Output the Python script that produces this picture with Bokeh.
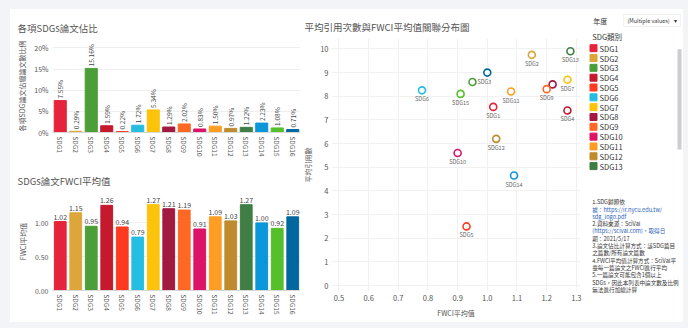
import numpy as np
from bokeh.plotting import figure
from bokeh.models import (ColumnDataSource, FactorRange, Range1d, FixedTicker,
                          PrintfTickFormatter, NumeralTickFormatter, Label,
                          BoxAnnotation, CDSView, IndexFilter, Spacer)
from bokeh.layouts import row, column
from bokeh.core.properties import value
from bokeh.embed import file_html
from bokeh.resources import INLINE

# ---------------- data ----------------
sdgs = ["SDG1", "SDG2", "SDG3", "SDG4", "SDG5", "SDG6", "SDG7", "SDG8",
        "SDG9", "SDG10", "SDG11", "SDG12", "SDG13", "SDG14", "SDG15", "SDG16"]
sdg_colors = ["#E5243B", "#DDA63A", "#4C9F38", "#C5192D", "#FF3A21", "#26BDE2",
              "#FCC30B", "#A21942", "#FD6925", "#DD1367", "#FD9D24", "#BF8B2E",
              "#3F7E44", "#0A97D9", "#56C02B", "#00689D"]
share_pct = [7.55, 0.29, 15.16, 1.59, 0.22, 1.72, 5.34, 1.29,
             2.02, 0.83, 1.50, 0.97, 1.22, 2.23, 1.08, 0.71]
fwci_mean = [1.02, 1.15, 0.95, 1.26, 0.94, 0.79, 1.27, 1.21,
             1.19, 0.91, 1.09, 1.03, 1.27, 1.00, 0.92, 1.09]
scatter_fwci = [1.02, 1.15, 0.95, 1.27, 0.93, 0.78, 1.27, 1.22,
                1.20, 0.90, 1.08, 1.03, 1.28, 1.09, 0.91, 1.00]
scatter_cites = [7.55, 9.75, 8.60, 7.40, 2.50, 8.25, 8.70, 8.50,
                 8.30, 5.60, 8.20, 6.20, 9.90, 4.65, 8.10, 9.00]
share_ticks = [0, 5, 10, 15, 20]
fwci_ticks = [0.0, 0.5, 1.0]
sc_x_ticks = [0.5, 0.6, 0.7, 0.8, 0.9, 1.0, 1.1, 1.2, 1.3]
sc_y_ticks = [0, 1, 2, 3, 4, 5, 6, 7, 8, 9, 10]
legend_index = list(range(1, 17))

notes = [
    ("1.SDG歸類依", "#333333"),
    ("據：https://ir.nycu.edu.tw/", "#2a62b8"),
    ("sdg_logo.pdf", "#2a62b8"),
    ("2.資料來源：SciVal", "#333333"),
    ("(https://scival.com)，取得日", "#2a62b8"),
    ("期：2021/5/17", "#333333"),
    ("3.論文佔比計算方式：該SDG篇目", "#333333"),
    ("之篇數/所有論文篇數", "#333333"),
    ("4.FWCI平均值計算方式：SciVal平", "#333333"),
    ("臺每一篇論文之FWCI進行平均", "#333333"),
    ("5.一篇論文可能包含1個以上", "#333333"),
    ("SDGs，因此本列表中論文數及比例", "#333333"),
    ("無法進行加總計算", "#333333"),
]

FONT = "Noto Sans CJK TC"
TXT = "#555555"
BG = "#f3f4f7"

src = ColumnDataSource(dict(
    sdg=sdgs, color=sdg_colors, pct=share_pct,
    pct_label=[f"{v:.2f}%" for v in share_pct],
    fwci=fwci_mean, fwci_label=[f"{v:.2f}" for v in fwci_mean],
    sx=scatter_fwci, sy=scatter_cites, idx=legend_index,
))


def style_axes(p, size="7px", standoff=4):
    for ax in p.axis:
        ax.major_label_text_font = FONT
        ax.major_label_text_font_size = size
        ax.major_label_text_color = TXT
        ax.major_label_standoff = standoff
        ax.axis_label_text_font = FONT
        ax.axis_label_text_font_size = "7px"
        ax.axis_label_text_font_style = "normal"
        ax.axis_label_text_color = TXT
        ax.axis_label_standoff = 4
        ax.major_tick_line_color = None
        ax.minor_tick_line_color = None
        ax.major_tick_out = 0
        ax.major_tick_in = 0
        ax.minor_tick_out = 0
        ax.minor_tick_in = 0
    p.outline_line_color = None
    p.title.text_font = FONT
    p.title.text_font_style = "normal"
    p.title.text_color = "#555555"
    p.title.text_font_size = "9.5px"


# ---------------- chart 1: share ----------------
p1 = figure(x_range=FactorRange(factors=sdgs), y_range=Range1d(0, 22),
            width=290, height=156, output_backend="svg", toolbar_location=None,
            min_border_left=42, min_border_right=0, min_border_top=30,
            min_border_bottom=33, title="各項SDGs論文佔比")
p1.vbar(x="sdg", top="pct", width=0.78, color="color", source=src)
p1.text(x="sdg", y="pct", text="pct_label", source=src, angle=np.pi / 2,
        text_align="left", text_baseline="middle", y_offset=-2,
        text_font=value(FONT), text_font_size="6.5px", text_color="#444444")
p1.yaxis.ticker = FixedTicker(ticks=share_ticks)
p1.yaxis.formatter = PrintfTickFormatter(format="%d%%")
p1.yaxis.axis_label = "各項SDG論文佔總論文數比例"
p1.yaxis.axis_line_color = None
p1.xaxis.axis_line_color = "#d8d8d8"
p1.xaxis.major_label_orientation = "vertical"
p1.xgrid.grid_line_color = None
p1.ygrid.grid_line_color = "#efefef"
style_axes(p1)
p1.xaxis.major_label_text_font_size = "6.5px"
p1.title.offset = -35

# ---------------- chart 2: FWCI ----------------
p2 = figure(x_range=FactorRange(factors=sdgs), y_range=Range1d(0, 1.45),
            width=290, height=157, output_backend="svg", toolbar_location=None,
            min_border_left=42, min_border_right=0, min_border_top=27,
            min_border_bottom=32, title="SDGs論文FWCI平均值")
p2.vbar(x="sdg", top="fwci", width=0.76, color="color", source=src)
p2.text(x="sdg", y="fwci", text="fwci_label", source=src,
        text_align="center", text_baseline="bottom", y_offset=-2,
        text_font=value(FONT), text_font_size="7px", text_color="#444444")
p2.yaxis.ticker = FixedTicker(ticks=fwci_ticks)
p2.yaxis.formatter = NumeralTickFormatter(format="0.00")
p2.yaxis.axis_label = "FWCI平均值"
p2.yaxis.axis_line_color = None
p2.xaxis.axis_line_color = "#d8d8d8"
p2.xaxis.major_label_orientation = "vertical"
p2.xgrid.grid_line_color = None
p2.ygrid.grid_line_color = "#efefef"
style_axes(p2)
p2.xaxis.major_label_text_font_size = "6.5px"
p2.title.offset = -35

# ---------------- chart 3: scatter ----------------
p3 = figure(x_range=Range1d(0.475, 1.314), y_range=Range1d(-0.25, 10.44),
            width=282, height=313, output_backend="svg", toolbar_location=None,
            min_border_left=30, min_border_right=2, min_border_top=29,
            min_border_bottom=31, title="平均引用次數與FWCI平均值關聯分布圖")
p3.scatter(x="sx", y="sy", source=src, marker="circle", size=7,
           fill_color="white", line_color="color", line_width=1.6)
below_idx = [0, 1, 3, 4, 5, 6, 8, 9, 10, 11, 12, 13, 14]
p3.text(x="sx", y="sy", text="sdg", source=src,
        view=CDSView(filter=IndexFilter(indices=below_idx)),
        text_align="center", text_baseline="top", y_offset=5,
        text_font=value(FONT), text_font_size="5.5px", text_color="#666666")
p3.text(x="sx", y="sy", text="sdg", source=src,
        view=CDSView(filter=IndexFilter(indices=[2])),
        text_align="left", text_baseline="middle", x_offset=5,
        text_font=value(FONT), text_font_size="5.5px", text_color="#666666")
p3.xaxis.ticker = FixedTicker(ticks=sc_x_ticks)
p3.xaxis.formatter = NumeralTickFormatter(format="0.0")
p3.yaxis.ticker = FixedTicker(ticks=sc_y_ticks)
p3.xaxis.axis_label = "FWCI平均值"
p3.yaxis.axis_label = "平均引用數"
p3.xaxis.axis_line_color = None
p3.yaxis.axis_line_color = None
p3.xgrid.grid_line_color = "#f1f1f1"
p3.ygrid.grid_line_color = "#f1f1f1"
style_axes(p3, "7.5px", 3)
p3.title.offset = -27


def blank(w, h):
    f = figure(width=w, height=h, x_range=Range1d(0, w), y_range=Range1d(h, 0),
               output_backend="svg", toolbar_location=None,
               x_axis_location=None, y_axis_location=None,
               min_border=0, min_border_left=0, min_border_right=0,
               min_border_top=0, min_border_bottom=0)
    f.xgrid.grid_line_color = None
    f.ygrid.grid_line_color = None
    f.outline_line_color = None
    return f


# ---------------- legend header ----------------
ph = blank(101, 33)
ph.add_layout(Label(x=6, y=11, text="年度", text_font=FONT, text_font_size="7px",
                    text_color="#333333", text_baseline="middle"))
ph.add_layout(BoxAnnotation(left=38, right=98, top=5, bottom=17,
                            fill_color="white", fill_alpha=1,
                            line_color="#cfcfcf", line_width=1))
ph.add_layout(Label(x=42, y=11, text="(Multiple values)", text_font=FONT,
                    text_font_size="5.5px", text_color="#333333",
                    text_baseline="middle"))
ph.add_layout(Label(x=93, y=11, text="▾", text_font=FONT,
                    text_font_size="6px", text_color="#333333",
                    text_baseline="middle", text_align="center"))
ph.add_layout(Label(x=5, y=27, text="SDG類別", text_font=FONT,
                    text_font_size="7.5px", text_color="#333333",
                    text_baseline="middle"))

# ---------------- legend list (scrolled list, first 13 visible) ----------------
pl = figure(width=101, height=136, x_range=Range1d(-6, 90),
            y_range=Range1d(14.26, 0.42), output_backend="svg",
            toolbar_location=None, x_axis_location=None, y_axis_location=None,
            min_border=0, min_border_left=5, min_border_right=0,
            min_border_top=0, min_border_bottom=0)
pl.xgrid.grid_line_color = None
pl.ygrid.grid_line_color = None
pl.outline_line_color = None
visible = CDSView(filter=IndexFilter(indices=list(range(13))))
pl.scatter(x=0, y="idx", source=src, view=visible, marker="square", size=7,
           color="color")
pl.text(x=0, y="idx", text="sdg", source=src, view=visible, x_offset=6,
        text_baseline="middle", text_font=value(FONT),
        text_font_size="7.5px", text_color="#333333")
pl.add_layout(BoxAnnotation(left=84, right=88, bottom=11.3, top=1.1,
                            fill_color="#cdcdcd", fill_alpha=1,
                            line_color=None))

# ---------------- notes ----------------
pn = blank(101, 144)
for i, (t, c) in enumerate(notes):
    pn.add_layout(Label(x=5, y=23.7 + 7.3 * i, text=t, text_font=FONT,
                        text_font_size="5.6px", text_color=c,
                        text_baseline="middle"))

WHITE = {"background-color": "white"}
right = column(ph, pl, pn, spacing=0, styles=WHITE)
left = column(p1, p2, spacing=0, styles=WHITE)
panel = row(left, p3, right, spacing=0, styles=WHITE)
root = column(
    Spacer(width=688, height=9, styles={"background-color": BG}),
    row(Spacer(width=10, height=313, styles={"background-color": BG}), panel,
        Spacer(width=5, height=313, styles={"background-color": BG}), spacing=0),
    Spacer(width=688, height=6, styles={"background-color": BG}),
    spacing=0, styles={"background-color": BG})

open("out.html", "w").write(file_html(root, INLINE))
